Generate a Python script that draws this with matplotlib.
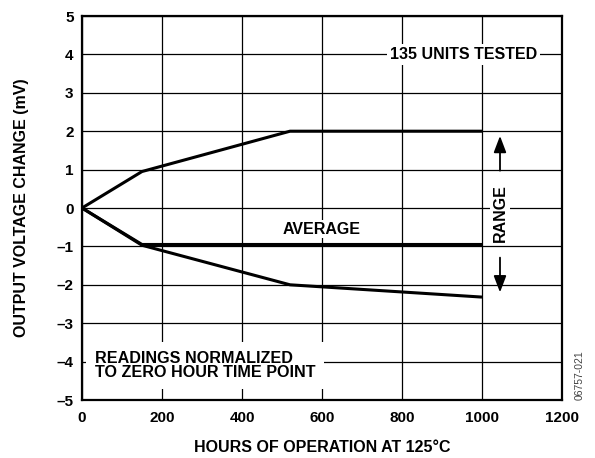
import matplotlib.pyplot as plt

# data
hours_upper = [0, 150, 520, 1000]
upper_mv = [0, 0.95, 2.0, 2.0]
hours_avg = [0, 150, 1000]
avg_mv = [0, -0.95, -0.95]
hours_lower = [0, 150, 520, 1000]
lower_mv = [0, -0.97, -2.0, -2.32]

x_ticks = [0, 200, 400, 600, 800, 1000, 1200]
y_ticks = [5, 4, 3, 2, 1, 0, -1, -2, -3, -4, -5]

plt.rcParams['font.family'] = ['Liberation Sans', 'DejaVu Sans']
plt.rcParams['font.weight'] = 'bold'

fig = plt.figure(figsize=(5.95, 4.58), dpi=100)
ax = fig.add_axes([82 / 595, 58 / 458, 480 / 595, 384 / 458])

for xs, ys in [(hours_upper, upper_mv), (hours_avg, avg_mv), (hours_lower, lower_mv)]:
    ax.plot(xs, ys, color='black', lw=2.2, solid_capstyle='butt', zorder=3)

ax.set_xlim(0, 1200)
ax.set_ylim(-5, 5)
ax.set_xticks(x_ticks)
ax.set_yticks(y_ticks)
ax.set_xticklabels([str(v) for v in x_ticks], fontsize=11, fontweight='bold')
ax.set_yticklabels([str(v).replace('-', '\u2013') for v in y_ticks], fontsize=11, fontweight='bold')
ax.tick_params(axis='x', length=0, pad=8)
ax.tick_params(axis='y', length=0, pad=6)
ax.grid(True, color='black', lw=0.9)
ax.set_axisbelow(True)
for s in ax.spines.values():
    s.set_linewidth(1.6)

ax.set_xlabel('HOURS OF OPERATION AT 125°C', fontsize=11.5, fontweight='bold', labelpad=11)
ax.set_ylabel('OUTPUT VOLTAGE CHANGE (mV)', fontsize=11.5, fontweight='bold', labelpad=20)

box = dict(facecolor='white', edgecolor='none', pad=2)
ax.text(953, 4, '135 UNITS TESTED', fontsize=11.5, fontweight='bold',
        ha='center', va='center', bbox=box, zorder=4)
ax.text(600, -0.55, 'AVERAGE', fontsize=11.5, fontweight='bold',
        ha='center', va='center', bbox=dict(facecolor='white', edgecolor='none', pad=1), zorder=4)
ax.text(1045, -0.12, 'RANGE', fontsize=11.5, fontweight='bold', rotation=90,
        ha='center', va='center', bbox=box, zorder=4)
ax.text(32, -4.1, 'READINGS NORMALIZED\nTO ZERO HOUR TIME POINT', fontsize=11.6,
        fontweight='bold', ha='left', va='center', linespacing=0.98,
        bbox=dict(facecolor='white', edgecolor='none', pad=6), zorder=4)

arrow = dict(arrowstyle='-|>,head_length=1.0,head_width=0.38', color='black', lw=1.3)
ax.annotate('', xy=(1045, 1.95), xytext=(1045, 0.9), arrowprops=arrow, zorder=4)
ax.annotate('', xy=(1045, -2.27), xytext=(1045, -1.22), arrowprops=arrow, zorder=4)

fig.text(580 / 595, 1 - 375 / 458, '06757-021', fontsize=7.5, fontweight='normal',
         rotation=90, ha='center', va='center', color='#444444')

fig.savefig('out.png', dpi=100)
